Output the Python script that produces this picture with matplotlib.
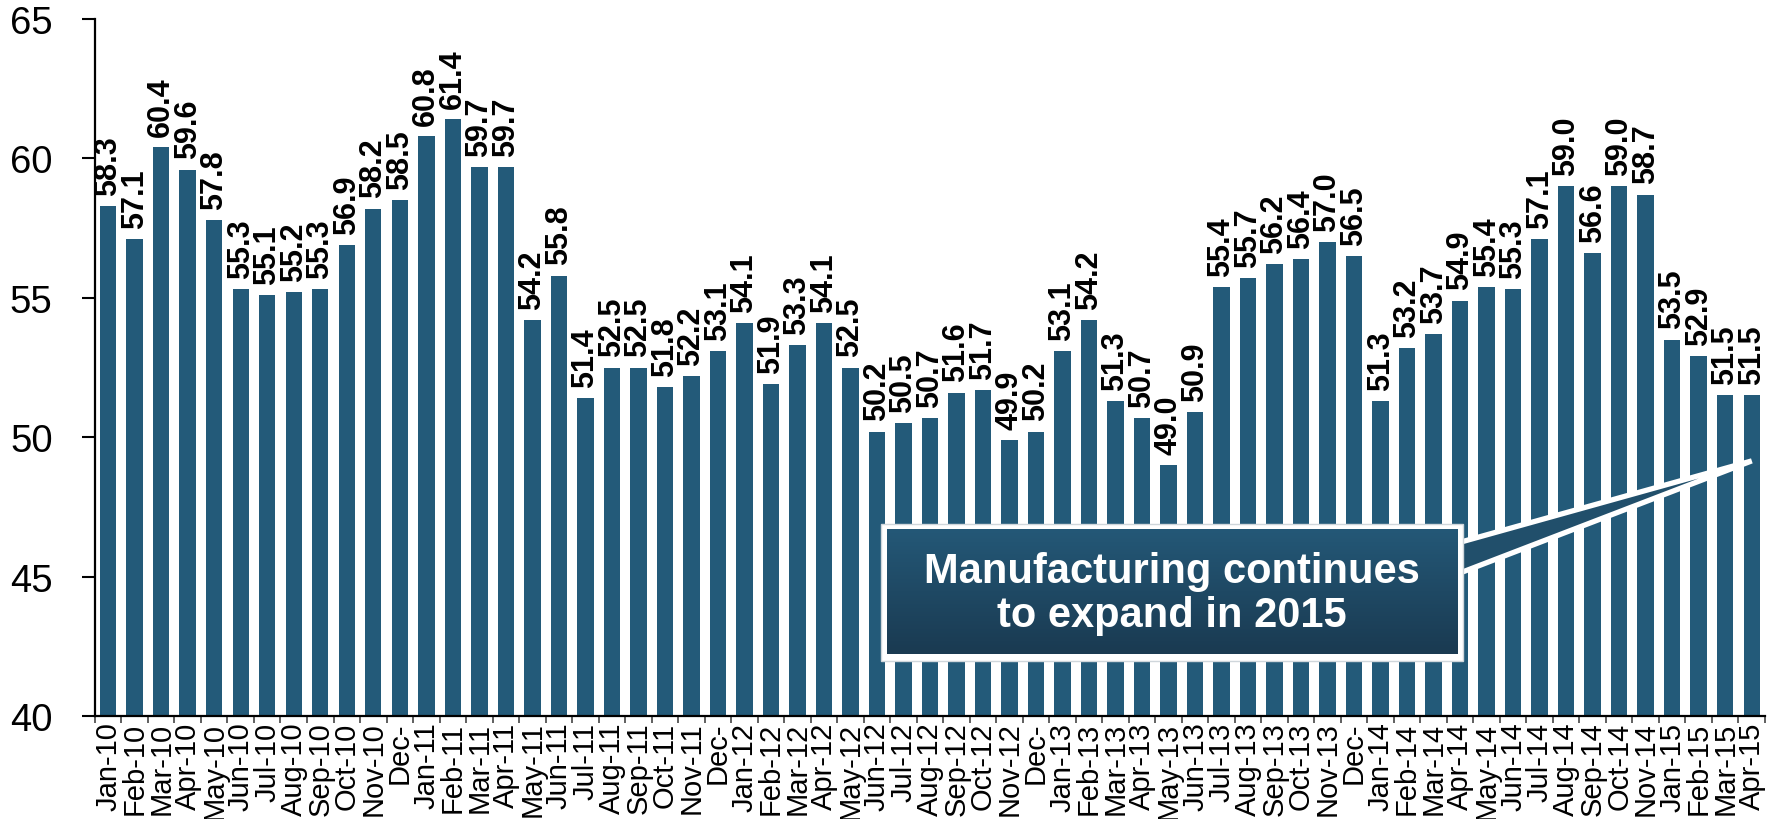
import numpy as np
import matplotlib
matplotlib.use("Agg")
import matplotlib.pyplot as plt
from matplotlib.colors import LinearSegmentedColormap
from matplotlib.patches import Rectangle, Polygon

plt.rcParams["font.family"] = ["Liberation Sans", "DejaVu Sans"]

# -------------------------------------------------------------
# Data: monthly manufacturing index readings (Dec-14 not shown)
# -------------------------------------------------------------
labels = [
    "Jan-10", "Feb-10", "Mar-10", "Apr-10", "May-10", "Jun-10", "Jul-10", "Aug-10",
    "Sep-10", "Oct-10", "Nov-10", "Dec-",
    "Jan-11", "Feb-11", "Mar-11", "Apr-11", "May-11", "Jun-11", "Jul-11", "Aug-11",
    "Sep-11", "Oct-11", "Nov-11", "Dec-",
    "Jan-12", "Feb-12", "Mar-12", "Apr-12", "May-12", "Jun-12", "Jul-12", "Aug-12",
    "Sep-12", "Oct-12", "Nov-12", "Dec-",
    "Jan-13", "Feb-13", "Mar-13", "Apr-13", "May-13", "Jun-13", "Jul-13", "Aug-13",
    "Sep-13", "Oct-13", "Nov-13", "Dec-",
    "Jan-14", "Feb-14", "Mar-14", "Apr-14", "May-14", "Jun-14", "Jul-14", "Aug-14",
    "Sep-14", "Oct-14", "Nov-14",
    "Jan-15", "Feb-15", "Mar-15", "Apr-15",
]
values_2010 = [58.3, 57.1, 60.4, 59.6, 57.8, 55.3, 55.1, 55.2, 55.3, 56.9, 58.2, 58.5]
values_2011 = [60.8, 61.4, 59.7, 59.7, 54.2, 55.8, 51.4, 52.5, 52.5, 51.8, 52.2, 53.1]
values_2012 = [54.1, 51.9, 53.3, 54.1, 52.5, 50.2, 50.5, 50.7, 51.6, 51.7, 49.9, 50.2]
values_2013 = [53.1, 54.2, 51.3, 50.7, 49.0, 50.9, 55.4, 55.7, 56.2, 56.4, 57.0, 56.5]
values_2014 = [51.3, 53.2, 53.7, 54.9, 55.4, 55.3, 57.1, 59.0, 56.6, 59.0, 58.7]
values_2015 = [53.5, 52.9, 51.5, 51.5]
values = values_2010 + values_2011 + values_2012 + values_2013 + values_2014 + values_2015

callout_text = "Manufacturing continues\nto expand in 2015"

bar_color = "#235a79"

# -------------------------------------------------------------
# Figure
# -------------------------------------------------------------
fig = plt.figure(figsize=(17.71, 8.2), dpi=100)
ax = fig.add_axes([0.0536, 0.1256, 0.943, 0.85])

x = np.arange(len(values))
ax.bar(x, np.array(values) - 40, bottom=40, width=0.62, color=bar_color, zorder=2)

for xi, v in zip(x, values):
    ax.text(xi, v + 0.4, f"{v:.1f}", rotation=90, ha="center", va="bottom",
            fontsize=22, fontweight="bold", color="black", zorder=3)

ax.set_xlim(-0.5, len(values) - 0.5)
ax.set_ylim(40, 65)
ax.set_yticks([40, 45, 50, 55, 60, 65])

ax.set_xticks(x)
ax.set_xticklabels(labels, rotation=90, fontsize=21, va="top", ha="center")
ax.set_xticks(np.arange(-0.5, len(values), 1), minor=True)
ax.tick_params(axis="x", which="major", length=0, pad=4)
ax.tick_params(axis="x", which="minor", length=5, width=1.2, color="#444444")
ax.tick_params(axis="y", which="major", length=9.5, width=1.5, labelsize=27.5, pad=21)

for side in ["top", "right"]:
    ax.spines[side].set_visible(False)
ax.spines["left"].set_linewidth(1.6)
ax.spines["bottom"].set_linewidth(1.6)

# -------------------------------------------------------------
# Callout box with pointer
# -------------------------------------------------------------
pointer = Polygon([(50.5, 46.1), (62.0, 49.15), (50.5, 44.95)], closed=True,
                  facecolor="#214f6b", edgecolor="white", linewidth=3.8, zorder=5)
ax.add_patch(pointer)

ax.add_patch(Rectangle((29.16, 41.97), 51.12 - 29.16, 46.89 - 41.97,
                       facecolor="white", edgecolor="#cfd6db", linewidth=1.0, zorder=6))

grad_cmap = LinearSegmentedColormap.from_list("box", ["#245877", "#1a3a51"])
grad = np.linspace(0, 1, 256).reshape(-1, 1)
ax.imshow(grad, cmap=grad_cmap, aspect="auto", origin="upper",
          extent=[29.39, 50.9, 42.22, 46.67], zorder=7)

ax.text(40.14, 44.41, callout_text, ha="center", va="center", color="white",
        fontsize=30, fontweight="bold", linespacing=1.12, zorder=8)

ax.set_xlim(-0.5, len(values) - 0.5)
ax.set_ylim(40, 65)

fig.savefig("out.png", dpi=100)
